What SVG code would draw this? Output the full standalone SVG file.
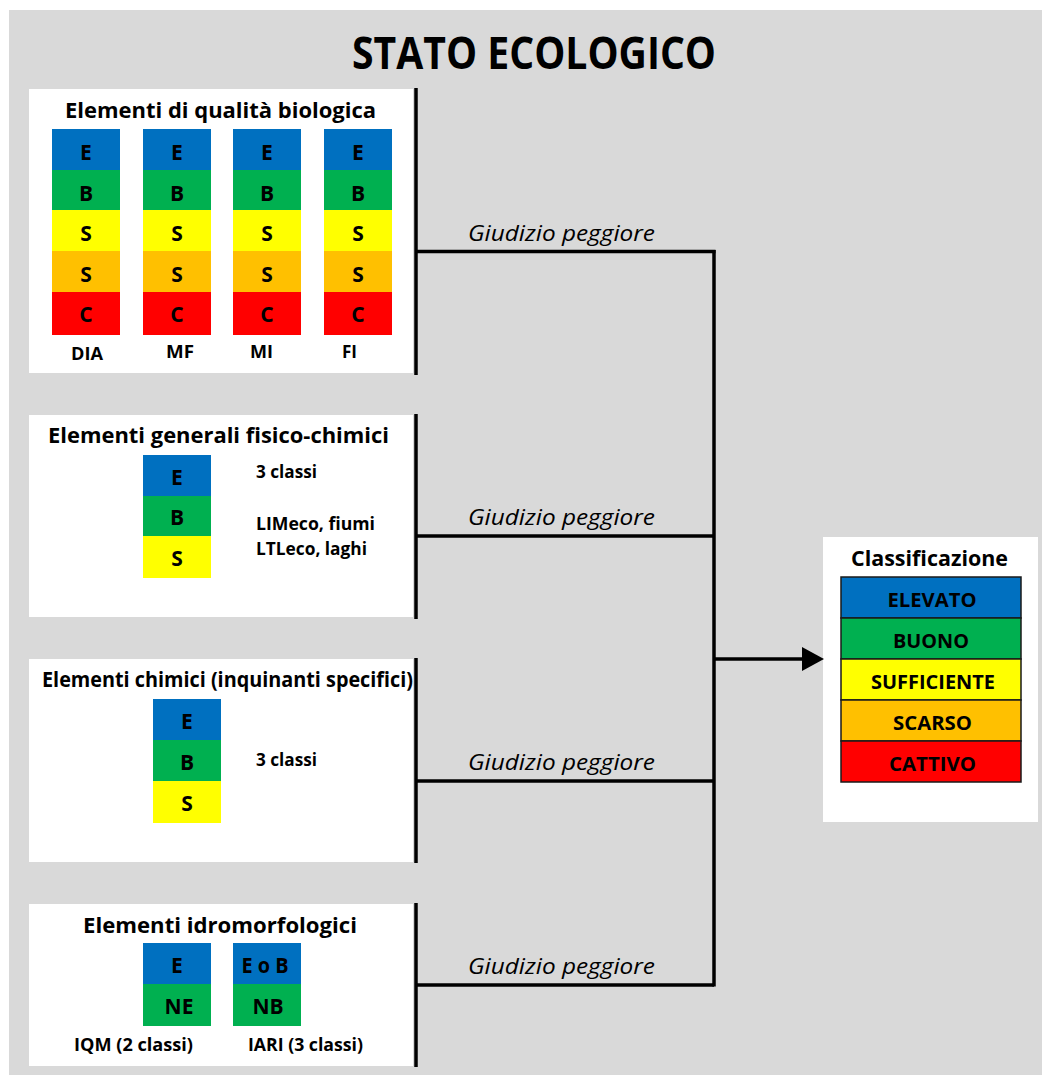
<svg xmlns="http://www.w3.org/2000/svg" width="1042" height="1075" viewBox="0 0 1042 1075">
<style>
.t{font-family:"Open Sans","Liberation Sans",sans-serif;font-weight:bold;fill:#000}
.c{font-size:21px;text-anchor:middle}
.h{font-size:22px}
.l{font-size:18.5px}
.g{font-family:"Open Sans","Liberation Sans",sans-serif;font-style:italic;font-size:21px;fill:#000}
.k{font-size:20px;text-anchor:middle}
.panel{fill:#fff}
.bl{fill:#0070C0}.gr{fill:#00B050}.ye{fill:#FFFF00}.or{fill:#FFC000}.re{fill:#FF0000}
.cell{stroke:#1a1a1a;stroke-width:1.5}
.ln{stroke:#000;stroke-width:3.5;fill:none}
</style>
<rect x="0" y="0" width="1042" height="1075" fill="#fff"/>
<rect x="9" y="10" width="1033" height="1065" fill="#D9D9D9"/>
<text class="t" x="352" y="69" font-size="45" textLength="364" lengthAdjust="spacingAndGlyphs">STATO ECOLOGICO</text>

<g id="node-biologica">
<rect class="panel" x="29" y="89" width="384" height="284"/>
<text class="t h" x="65" y="118" textLength="311" lengthAdjust="spacingAndGlyphs">Elementi di qualità biologica</text>
<g id="col-dia">
<rect class="bl" x="52" y="129" width="68" height="41"/><rect class="gr" x="52" y="170" width="68" height="40"/><rect class="ye" x="52" y="210" width="68" height="41"/><rect class="or" x="52" y="251" width="68" height="41"/><rect class="re" x="52" y="292" width="68" height="43"/>
<text class="t c" x="86" y="160">E</text><text class="t c" x="86" y="200.5">B</text><text class="t c" x="86" y="240.5">S</text><text class="t c" x="86" y="281.5">S</text><text class="t c" x="86" y="322">C</text>
</g>
<g id="col-mf">
<rect class="bl" x="143" y="129" width="68" height="41"/><rect class="gr" x="143" y="170" width="68" height="40"/><rect class="ye" x="143" y="210" width="68" height="41"/><rect class="or" x="143" y="251" width="68" height="41"/><rect class="re" x="143" y="292" width="68" height="43"/>
<text class="t c" x="177" y="160">E</text><text class="t c" x="177" y="200.5">B</text><text class="t c" x="177" y="240.5">S</text><text class="t c" x="177" y="281.5">S</text><text class="t c" x="177" y="322">C</text>
</g>
<g id="col-mi">
<rect class="bl" x="233" y="129" width="68" height="41"/><rect class="gr" x="233" y="170" width="68" height="40"/><rect class="ye" x="233" y="210" width="68" height="41"/><rect class="or" x="233" y="251" width="68" height="41"/><rect class="re" x="233" y="292" width="68" height="43"/>
<text class="t c" x="267" y="160">E</text><text class="t c" x="267" y="200.5">B</text><text class="t c" x="267" y="240.5">S</text><text class="t c" x="267" y="281.5">S</text><text class="t c" x="267" y="322">C</text>
</g>
<g id="col-fi">
<rect class="bl" x="324" y="129" width="68" height="41"/><rect class="gr" x="324" y="170" width="68" height="40"/><rect class="ye" x="324" y="210" width="68" height="41"/><rect class="or" x="324" y="251" width="68" height="41"/><rect class="re" x="324" y="292" width="68" height="43"/>
<text class="t c" x="358" y="160">E</text><text class="t c" x="358" y="200.5">B</text><text class="t c" x="358" y="240.5">S</text><text class="t c" x="358" y="281.5">S</text><text class="t c" x="358" y="322">C</text>
</g>
<text class="t l" x="71" y="360" textLength="32" lengthAdjust="spacingAndGlyphs">DIA</text>
<text class="t l" x="166" y="358" textLength="28" lengthAdjust="spacingAndGlyphs">MF</text>
<text class="t l" x="250" y="358" textLength="23" lengthAdjust="spacingAndGlyphs">MI</text>
<text class="t l" x="342" y="358" textLength="15" lengthAdjust="spacingAndGlyphs">FI</text>
</g>

<g id="node-fisico-chimici">
<rect class="panel" x="29" y="415" width="384" height="202"/>
<text class="t h" x="48" y="443" textLength="341" lengthAdjust="spacingAndGlyphs">Elementi generali fisico-chimici</text>
<rect class="bl" x="143" y="455" width="68" height="41"/><rect class="gr" x="143" y="496" width="68" height="40"/><rect class="ye" x="143" y="536" width="68" height="42"/>
<text class="t c" x="177" y="485">E</text><text class="t c" x="177" y="525">B</text><text class="t c" x="177" y="566">S</text>
<text class="t l" x="256" y="478" textLength="61" lengthAdjust="spacingAndGlyphs">3 classi</text>
<text class="t l" x="256" y="530" textLength="119" lengthAdjust="spacingAndGlyphs">LIMeco, fiumi</text>
<text class="t l" x="256" y="555" textLength="111" lengthAdjust="spacingAndGlyphs">LTLeco, laghi</text>
</g>

<g id="node-chimici">
<rect class="panel" x="29" y="659" width="384" height="203"/>
<text class="t h" x="42" y="687" textLength="371" lengthAdjust="spacingAndGlyphs">Elementi chimici (inquinanti specifici)</text>
<rect class="bl" x="153" y="699" width="68" height="41"/><rect class="gr" x="153" y="740" width="68" height="41"/><rect class="ye" x="153" y="781" width="68" height="42"/>
<text class="t c" x="187" y="729">E</text><text class="t c" x="187" y="770">B</text><text class="t c" x="187" y="811">S</text>
<text class="t l" x="256" y="766" textLength="61" lengthAdjust="spacingAndGlyphs">3 classi</text>
</g>

<g id="node-idromorfologici">
<rect class="panel" x="29" y="904" width="384" height="162"/>
<text class="t h" x="83" y="933" textLength="274" lengthAdjust="spacingAndGlyphs">Elementi idromorfologici</text>
<rect class="bl" x="143" y="943" width="68" height="41"/><rect class="gr" x="143" y="984" width="68" height="42"/>
<rect class="bl" x="233" y="943" width="68" height="41"/><rect class="gr" x="233" y="984" width="68" height="42"/>
<text class="t c" x="177" y="973">E</text><text class="t c" x="179" y="1014">NE</text>
<text class="t c" x="265" y="973" textLength="47" lengthAdjust="spacingAndGlyphs">E o B</text><text class="t c" x="268" y="1014">NB</text>
<text class="t l" x="74" y="1051" textLength="119" lengthAdjust="spacingAndGlyphs">IQM (2 classi)</text>
<text class="t l" x="248" y="1051" textLength="115" lengthAdjust="spacingAndGlyphs">IARI (3 classi)</text>
</g>

<g id="node-classificazione">
<rect class="panel" x="823" y="537" width="215" height="285"/>
<text class="t" x="851" y="566" font-size="21" textLength="157" lengthAdjust="spacingAndGlyphs">Classificazione</text>
<rect class="bl cell" x="841" y="577" width="180" height="41"/>
<rect class="gr cell" x="841" y="618" width="180" height="41"/>
<rect class="ye cell" x="841" y="659" width="180" height="41"/>
<rect class="or cell" x="841" y="700" width="180" height="41"/>
<rect class="re cell" x="841" y="741" width="180" height="41"/>
<text class="t k" x="932" y="607" textLength="89" lengthAdjust="spacingAndGlyphs">ELEVATO</text>
<text class="t k" x="931" y="648" textLength="76" lengthAdjust="spacingAndGlyphs">BUONO</text>
<text class="t k" x="933" y="688.5" textLength="124" lengthAdjust="spacingAndGlyphs">SUFFICIENTE</text>
<text class="t k" x="932.5" y="730" textLength="79" lengthAdjust="spacingAndGlyphs">SCARSO</text>
<text class="t k" x="932.5" y="771" textLength="87" lengthAdjust="spacingAndGlyphs">CATTIVO</text>
</g>

<g id="connectors">
<line class="ln" x1="416" y1="88" x2="416" y2="375"/>
<line class="ln" x1="416" y1="414" x2="416" y2="619"/>
<line class="ln" x1="416" y1="658" x2="416" y2="863"/>
<line class="ln" x1="416" y1="903" x2="416" y2="1067"/>
<line class="ln" x1="416" y1="251.5" x2="715.5" y2="251.5"/>
<line class="ln" x1="416" y1="536" x2="714" y2="536"/>
<line class="ln" x1="416" y1="781" x2="714" y2="781"/>
<line class="ln" x1="416" y1="985" x2="714" y2="985"/>
<line class="ln" x1="714" y1="250" x2="714" y2="986.5"/>
<line class="ln" x1="714" y1="659" x2="805" y2="659"/>
<polygon points="802,647 824,659 802,671" fill="#000"/>
<text class="g" x="468" y="241" textLength="187" lengthAdjust="spacingAndGlyphs">Giudizio peggiore</text>
<text class="g" x="468" y="525" textLength="187" lengthAdjust="spacingAndGlyphs">Giudizio peggiore</text>
<text class="g" x="468" y="770" textLength="187" lengthAdjust="spacingAndGlyphs">Giudizio peggiore</text>
<text class="g" x="468" y="974" textLength="187" lengthAdjust="spacingAndGlyphs">Giudizio peggiore</text>
</g>
</svg>
